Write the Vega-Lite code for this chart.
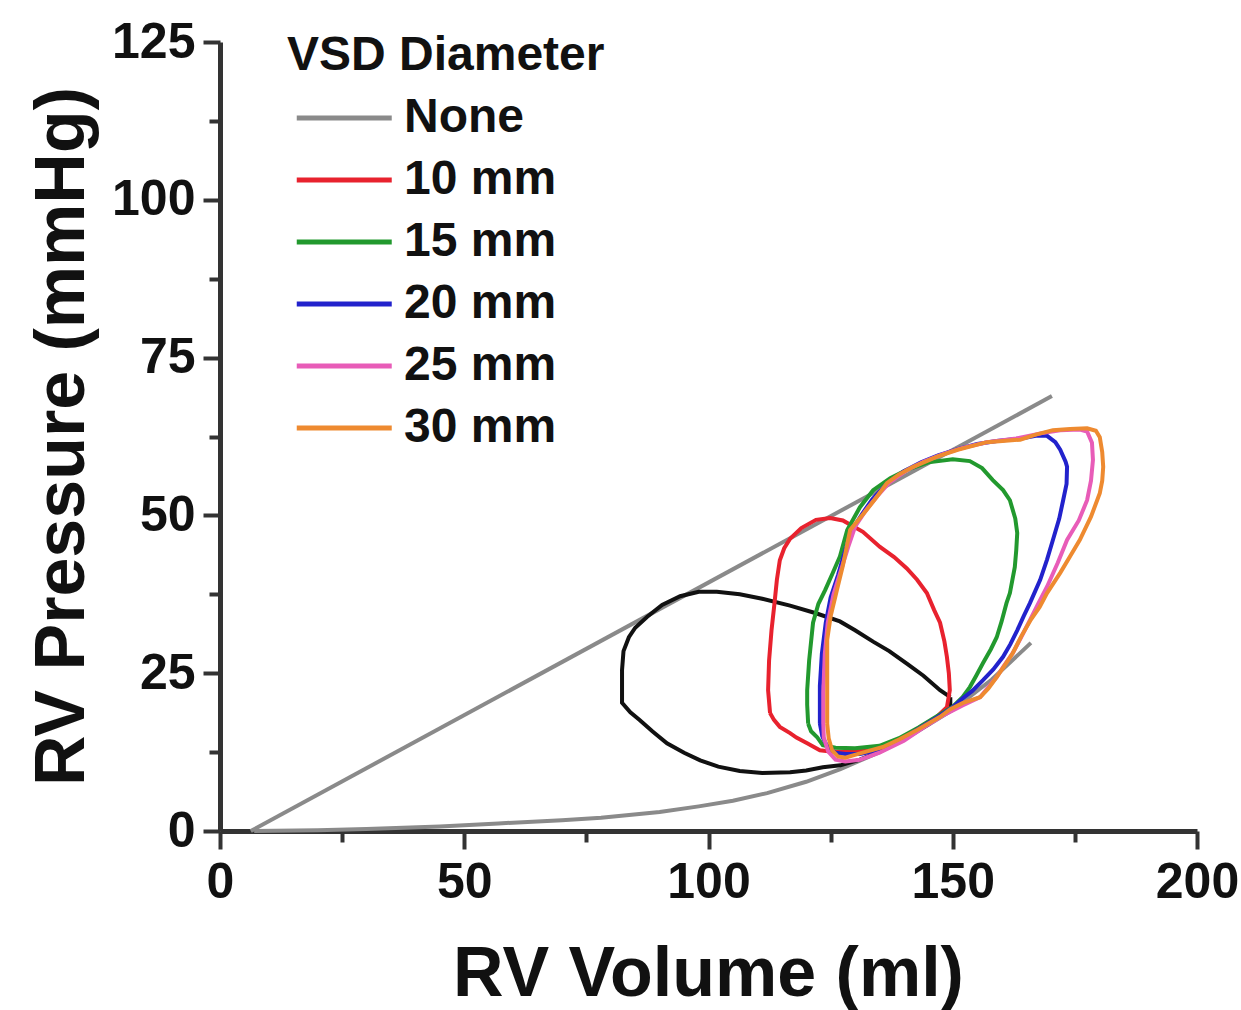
{
  "$schema": "https://vega.github.io/schema/vega-lite/v6.json",
  "width": 977,
  "height": 789,
  "autosize": {"type": "none"},
  "padding": {"left": 220, "top": 42, "right": 44, "bottom": 179},
  "background": "white",
  "config": {
    "view": {"stroke": null},
    "font": "Liberation Sans"
  },
  "datasets": {
    "gray": [
      {"k": "ESPVR", "i": 0, "v": 6.3, "p": 0},
      {"k": "ESPVR", "i": 1, "v": 170.3, "p": 68.9},
      {"k": "EDPVR", "i": 0, "v": 7, "p": 0},
      {"k": "EDPVR", "i": 1, "v": 20, "p": 0.1},
      {"k": "EDPVR", "i": 2, "v": 30, "p": 0.3},
      {"k": "EDPVR", "i": 3, "v": 45, "p": 0.7},
      {"k": "EDPVR", "i": 4, "v": 57, "p": 1.2},
      {"k": "EDPVR", "i": 5, "v": 70, "p": 1.7},
      {"k": "EDPVR", "i": 6, "v": 78, "p": 2.1},
      {"k": "EDPVR", "i": 7, "v": 90, "p": 3.0},
      {"k": "EDPVR", "i": 8, "v": 98, "p": 3.9},
      {"k": "EDPVR", "i": 9, "v": 105, "p": 4.8},
      {"k": "EDPVR", "i": 10, "v": 112, "p": 6.0},
      {"k": "EDPVR", "i": 11, "v": 120, "p": 7.8},
      {"k": "EDPVR", "i": 12, "v": 127, "p": 9.8},
      {"k": "EDPVR", "i": 13, "v": 135, "p": 12.5},
      {"k": "EDPVR", "i": 14, "v": 142, "p": 15.4},
      {"k": "EDPVR", "i": 15, "v": 150, "p": 19.2},
      {"k": "EDPVR", "i": 16, "v": 158, "p": 24.0},
      {"k": "EDPVR", "i": 17, "v": 166, "p": 29.8}
    ],
    "none": [
      {"i": 0, "v": 149.5, "p": 21.2},
      {"i": 1, "v": 147.4, "p": 22.3},
      {"i": 2, "v": 144, "p": 24.6},
      {"i": 3, "v": 140.6, "p": 26.5},
      {"i": 4, "v": 137, "p": 28.5},
      {"i": 5, "v": 133.7, "p": 30.0},
      {"i": 6, "v": 130, "p": 31.8},
      {"i": 7, "v": 126.9, "p": 33.2},
      {"i": 8, "v": 122, "p": 34.5},
      {"i": 9, "v": 116.7, "p": 35.7},
      {"i": 10, "v": 111, "p": 36.8},
      {"i": 11, "v": 106.4, "p": 37.5},
      {"i": 12, "v": 101.7, "p": 37.9},
      {"i": 13, "v": 98, "p": 37.9},
      {"i": 14, "v": 94.2, "p": 37.2},
      {"i": 15, "v": 90.5, "p": 35.8},
      {"i": 16, "v": 87.4, "p": 33.9},
      {"i": 17, "v": 85, "p": 32.2},
      {"i": 18, "v": 83.7, "p": 30.7},
      {"i": 19, "v": 82.6, "p": 28.5},
      {"i": 20, "v": 82.3, "p": 25.5},
      {"i": 21, "v": 82.3, "p": 20.3},
      {"i": 22, "v": 84, "p": 18.8},
      {"i": 23, "v": 85.9, "p": 17.6},
      {"i": 24, "v": 88.5, "p": 15.8},
      {"i": 25, "v": 91.5, "p": 13.9},
      {"i": 26, "v": 95, "p": 12.4},
      {"i": 27, "v": 98.3, "p": 11.2},
      {"i": 28, "v": 102, "p": 10.2},
      {"i": 29, "v": 106.4, "p": 9.5},
      {"i": 30, "v": 111, "p": 9.2},
      {"i": 31, "v": 116.7, "p": 9.3},
      {"i": 32, "v": 120, "p": 9.6},
      {"i": 33, "v": 123.4, "p": 10.1},
      {"i": 34, "v": 127, "p": 10.4},
      {"i": 35, "v": 131, "p": 11.3},
      {"i": 36, "v": 135, "p": 12.6},
      {"i": 37, "v": 140, "p": 14.6},
      {"i": 38, "v": 145, "p": 16.9},
      {"i": 39, "v": 149.5, "p": 19.5},
      {"i": 40, "v": 149.5, "p": 21.2}
    ],
    "vsd": [
      {"s": "10 mm", "i": 0, "v": 112.6, "p": 18.7},
      {"s": "10 mm", "i": 1, "v": 112.2, "p": 22.3},
      {"s": "10 mm", "i": 2, "v": 112.4, "p": 27},
      {"s": "10 mm", "i": 3, "v": 112.9, "p": 31.8},
      {"s": "10 mm", "i": 4, "v": 113.5, "p": 36},
      {"s": "10 mm", "i": 5, "v": 114, "p": 39.8},
      {"s": "10 mm", "i": 6, "v": 114.6, "p": 42.9},
      {"s": "10 mm", "i": 7, "v": 115.5, "p": 44.8},
      {"s": "10 mm", "i": 8, "v": 116.7, "p": 46.3},
      {"s": "10 mm", "i": 9, "v": 119, "p": 48},
      {"s": "10 mm", "i": 10, "v": 122, "p": 49.3},
      {"s": "10 mm", "i": 11, "v": 124.9, "p": 49.6},
      {"s": "10 mm", "i": 12, "v": 127.5, "p": 49.2},
      {"s": "10 mm", "i": 13, "v": 131.6, "p": 47.4},
      {"s": "10 mm", "i": 14, "v": 135.1, "p": 45},
      {"s": "10 mm", "i": 15, "v": 138, "p": 43.4},
      {"s": "10 mm", "i": 16, "v": 140.6, "p": 41.6},
      {"s": "10 mm", "i": 17, "v": 142.7, "p": 39.8},
      {"s": "10 mm", "i": 18, "v": 144.7, "p": 37.7},
      {"s": "10 mm", "i": 19, "v": 146.2, "p": 35},
      {"s": "10 mm", "i": 20, "v": 147.4, "p": 33},
      {"s": "10 mm", "i": 21, "v": 148.3, "p": 30},
      {"s": "10 mm", "i": 22, "v": 148.8, "p": 27.6},
      {"s": "10 mm", "i": 23, "v": 149.2, "p": 25},
      {"s": "10 mm", "i": 24, "v": 149.4, "p": 22.3},
      {"s": "10 mm", "i": 25, "v": 148.8, "p": 19.6},
      {"s": "10 mm", "i": 26, "v": 146.6, "p": 18},
      {"s": "10 mm", "i": 27, "v": 144.7, "p": 17.1},
      {"s": "10 mm", "i": 28, "v": 141, "p": 15.3},
      {"s": "10 mm", "i": 29, "v": 137.2, "p": 13.9},
      {"s": "10 mm", "i": 30, "v": 133, "p": 12.8},
      {"s": "10 mm", "i": 31, "v": 128.5, "p": 12.5},
      {"s": "10 mm", "i": 32, "v": 125, "p": 12.6},
      {"s": "10 mm", "i": 33, "v": 122.8, "p": 12.8},
      {"s": "10 mm", "i": 34, "v": 120.2, "p": 13.9},
      {"s": "10 mm", "i": 35, "v": 118, "p": 14.8},
      {"s": "10 mm", "i": 36, "v": 116.7, "p": 15.5},
      {"s": "10 mm", "i": 37, "v": 114.6, "p": 16.5},
      {"s": "10 mm", "i": 38, "v": 113.4, "p": 17.6},
      {"s": "10 mm", "i": 39, "v": 112.6, "p": 18.7},

      {"s": "15 mm", "i": 0, "v": 120.4, "p": 17},
      {"s": "15 mm", "i": 1, "v": 120.2, "p": 20},
      {"s": "15 mm", "i": 2, "v": 120.2, "p": 22.3},
      {"s": "15 mm", "i": 3, "v": 120.6, "p": 27},
      {"s": "15 mm", "i": 4, "v": 121.4, "p": 33},
      {"s": "15 mm", "i": 5, "v": 122.5, "p": 36},
      {"s": "15 mm", "i": 6, "v": 123.9, "p": 38.2},
      {"s": "15 mm", "i": 7, "v": 125.5, "p": 41},
      {"s": "15 mm", "i": 8, "v": 126.9, "p": 43.5},
      {"s": "15 mm", "i": 9, "v": 128.4, "p": 47.7},
      {"s": "15 mm", "i": 10, "v": 131, "p": 51.3},
      {"s": "15 mm", "i": 11, "v": 133.7, "p": 54},
      {"s": "15 mm", "i": 12, "v": 137.2, "p": 55.9},
      {"s": "15 mm", "i": 13, "v": 140.6, "p": 57.2},
      {"s": "15 mm", "i": 14, "v": 145, "p": 58.4},
      {"s": "15 mm", "i": 15, "v": 150, "p": 58.9},
      {"s": "15 mm", "i": 16, "v": 153.5, "p": 58.6},
      {"s": "15 mm", "i": 17, "v": 156, "p": 57.5},
      {"s": "15 mm", "i": 18, "v": 158.2, "p": 55.6},
      {"s": "15 mm", "i": 19, "v": 160.3, "p": 54},
      {"s": "15 mm", "i": 20, "v": 161.7, "p": 52.4},
      {"s": "15 mm", "i": 21, "v": 162.8, "p": 49.5},
      {"s": "15 mm", "i": 22, "v": 163.2, "p": 47.2},
      {"s": "15 mm", "i": 23, "v": 163, "p": 44.5},
      {"s": "15 mm", "i": 24, "v": 162.7, "p": 41.8},
      {"s": "15 mm", "i": 25, "v": 161.7, "p": 37.7},
      {"s": "15 mm", "i": 26, "v": 161, "p": 36.1},
      {"s": "15 mm", "i": 27, "v": 160, "p": 33.2},
      {"s": "15 mm", "i": 28, "v": 159, "p": 30.7},
      {"s": "15 mm", "i": 29, "v": 157.8, "p": 28.8},
      {"s": "15 mm", "i": 30, "v": 156.2, "p": 26.6},
      {"s": "15 mm", "i": 31, "v": 154.8, "p": 24.6},
      {"s": "15 mm", "i": 32, "v": 153.5, "p": 22.8},
      {"s": "15 mm", "i": 33, "v": 152, "p": 21.2},
      {"s": "15 mm", "i": 34, "v": 150, "p": 19.7},
      {"s": "15 mm", "i": 35, "v": 147, "p": 18.3},
      {"s": "15 mm", "i": 36, "v": 143, "p": 16.4},
      {"s": "15 mm", "i": 37, "v": 139, "p": 14.7},
      {"s": "15 mm", "i": 38, "v": 135, "p": 13.5},
      {"s": "15 mm", "i": 39, "v": 130, "p": 13.1},
      {"s": "15 mm", "i": 40, "v": 126, "p": 13.2},
      {"s": "15 mm", "i": 41, "v": 123.4, "p": 13.6},
      {"s": "15 mm", "i": 42, "v": 122.2, "p": 14.9},
      {"s": "15 mm", "i": 43, "v": 121, "p": 15.8},
      {"s": "15 mm", "i": 44, "v": 120.4, "p": 17},

      {"s": "20 mm", "i": 0, "v": 122.8, "p": 17},
      {"s": "20 mm", "i": 1, "v": 122.8, "p": 20},
      {"s": "20 mm", "i": 2, "v": 122.8, "p": 23},
      {"s": "20 mm", "i": 3, "v": 123.2, "p": 28},
      {"s": "20 mm", "i": 4, "v": 124, "p": 33},
      {"s": "20 mm", "i": 5, "v": 125, "p": 37},
      {"s": "20 mm", "i": 6, "v": 126.5, "p": 40.5},
      {"s": "20 mm", "i": 7, "v": 128, "p": 44.5},
      {"s": "20 mm", "i": 8, "v": 129.4, "p": 47.7},
      {"s": "20 mm", "i": 9, "v": 131.5, "p": 50.3},
      {"s": "20 mm", "i": 10, "v": 133.5, "p": 52.5},
      {"s": "20 mm", "i": 11, "v": 136.5, "p": 55},
      {"s": "20 mm", "i": 12, "v": 140, "p": 57},
      {"s": "20 mm", "i": 13, "v": 143.5, "p": 58.4},
      {"s": "20 mm", "i": 14, "v": 147, "p": 59.5},
      {"s": "20 mm", "i": 15, "v": 151, "p": 60.5},
      {"s": "20 mm", "i": 16, "v": 155, "p": 61.3},
      {"s": "20 mm", "i": 17, "v": 159, "p": 61.8},
      {"s": "20 mm", "i": 18, "v": 164, "p": 62.2},
      {"s": "20 mm", "i": 19, "v": 167, "p": 62.6},
      {"s": "20 mm", "i": 20, "v": 169.3, "p": 62.6},
      {"s": "20 mm", "i": 21, "v": 171, "p": 61.6},
      {"s": "20 mm", "i": 22, "v": 172, "p": 60.4},
      {"s": "20 mm", "i": 23, "v": 173.1, "p": 58.5},
      {"s": "20 mm", "i": 24, "v": 173.4, "p": 57.7},
      {"s": "20 mm", "i": 25, "v": 173.3, "p": 55},
      {"s": "20 mm", "i": 26, "v": 172.6, "p": 52.4},
      {"s": "20 mm", "i": 27, "v": 171.8, "p": 49.5},
      {"s": "20 mm", "i": 28, "v": 170.5, "p": 46.1},
      {"s": "20 mm", "i": 29, "v": 169.3, "p": 43},
      {"s": "20 mm", "i": 30, "v": 167.9, "p": 39.8},
      {"s": "20 mm", "i": 31, "v": 165.8, "p": 36.1},
      {"s": "20 mm", "i": 32, "v": 164.5, "p": 34},
      {"s": "20 mm", "i": 33, "v": 163.2, "p": 31.8},
      {"s": "20 mm", "i": 34, "v": 161.8, "p": 29.6},
      {"s": "20 mm", "i": 35, "v": 160.3, "p": 27.6},
      {"s": "20 mm", "i": 36, "v": 158.3, "p": 25.6},
      {"s": "20 mm", "i": 37, "v": 156.2, "p": 23.9},
      {"s": "20 mm", "i": 38, "v": 154, "p": 22.2},
      {"s": "20 mm", "i": 39, "v": 152, "p": 21},
      {"s": "20 mm", "i": 40, "v": 150, "p": 19.6},
      {"s": "20 mm", "i": 41, "v": 147, "p": 18.1},
      {"s": "20 mm", "i": 42, "v": 143, "p": 16.2},
      {"s": "20 mm", "i": 43, "v": 139, "p": 14.3},
      {"s": "20 mm", "i": 44, "v": 135, "p": 12.8},
      {"s": "20 mm", "i": 45, "v": 131, "p": 12.2},
      {"s": "20 mm", "i": 46, "v": 128, "p": 12.2},
      {"s": "20 mm", "i": 47, "v": 126, "p": 12.4},
      {"s": "20 mm", "i": 48, "v": 124.3, "p": 13.4},
      {"s": "20 mm", "i": 49, "v": 123.3, "p": 15},
      {"s": "20 mm", "i": 50, "v": 122.8, "p": 17},

      {"s": "25 mm", "i": 0, "v": 123.5, "p": 17},
      {"s": "25 mm", "i": 1, "v": 123.5, "p": 22},
      {"s": "25 mm", "i": 2, "v": 123.8, "p": 28},
      {"s": "25 mm", "i": 3, "v": 124.4, "p": 33},
      {"s": "25 mm", "i": 4, "v": 125.6, "p": 37.5},
      {"s": "25 mm", "i": 5, "v": 127, "p": 41},
      {"s": "25 mm", "i": 6, "v": 128.6, "p": 45},
      {"s": "25 mm", "i": 7, "v": 130, "p": 48.2},
      {"s": "25 mm", "i": 8, "v": 132.2, "p": 50.8},
      {"s": "25 mm", "i": 9, "v": 134.5, "p": 53},
      {"s": "25 mm", "i": 10, "v": 137, "p": 55.2},
      {"s": "25 mm", "i": 11, "v": 140.5, "p": 57.1},
      {"s": "25 mm", "i": 12, "v": 144, "p": 58.5},
      {"s": "25 mm", "i": 13, "v": 148, "p": 59.7},
      {"s": "25 mm", "i": 14, "v": 152, "p": 60.7},
      {"s": "25 mm", "i": 15, "v": 157, "p": 61.6},
      {"s": "25 mm", "i": 16, "v": 163, "p": 62.2},
      {"s": "25 mm", "i": 17, "v": 168, "p": 63},
      {"s": "25 mm", "i": 18, "v": 172, "p": 63.5},
      {"s": "25 mm", "i": 19, "v": 176, "p": 63.6},
      {"s": "25 mm", "i": 20, "v": 177.5, "p": 63.3},
      {"s": "25 mm", "i": 21, "v": 178.5, "p": 61.5},
      {"s": "25 mm", "i": 22, "v": 178.7, "p": 58.8},
      {"s": "25 mm", "i": 23, "v": 178.3, "p": 55.5},
      {"s": "25 mm", "i": 24, "v": 177.5, "p": 52.4},
      {"s": "25 mm", "i": 25, "v": 175.8, "p": 49.2},
      {"s": "25 mm", "i": 26, "v": 173.4, "p": 46.1},
      {"s": "25 mm", "i": 27, "v": 171.5, "p": 42.5},
      {"s": "25 mm", "i": 28, "v": 169.3, "p": 38.7},
      {"s": "25 mm", "i": 29, "v": 167.5, "p": 36},
      {"s": "25 mm", "i": 30, "v": 165.8, "p": 33.4},
      {"s": "25 mm", "i": 31, "v": 164, "p": 30.7},
      {"s": "25 mm", "i": 32, "v": 162.3, "p": 28.2},
      {"s": "25 mm", "i": 33, "v": 160.5, "p": 26.2},
      {"s": "25 mm", "i": 34, "v": 159, "p": 24.4},
      {"s": "25 mm", "i": 35, "v": 157.3, "p": 22.8},
      {"s": "25 mm", "i": 36, "v": 155.6, "p": 21.2},
      {"s": "25 mm", "i": 37, "v": 152, "p": 19.9},
      {"s": "25 mm", "i": 38, "v": 148, "p": 18.3},
      {"s": "25 mm", "i": 39, "v": 144, "p": 16.4},
      {"s": "25 mm", "i": 40, "v": 140, "p": 14.3},
      {"s": "25 mm", "i": 41, "v": 135, "p": 12.4},
      {"s": "25 mm", "i": 42, "v": 131, "p": 11.3},
      {"s": "25 mm", "i": 43, "v": 128, "p": 11},
      {"s": "25 mm", "i": 44, "v": 126, "p": 11.3},
      {"s": "25 mm", "i": 45, "v": 124.5, "p": 12.6},
      {"s": "25 mm", "i": 46, "v": 123.6, "p": 14.8},
      {"s": "25 mm", "i": 47, "v": 123.5, "p": 17},

      {"s": "30 mm", "i": 0, "v": 124.3, "p": 17},
      {"s": "30 mm", "i": 1, "v": 124.3, "p": 22.3},
      {"s": "30 mm", "i": 2, "v": 124.3, "p": 26},
      {"s": "30 mm", "i": 3, "v": 124.3, "p": 30.3},
      {"s": "30 mm", "i": 4, "v": 125, "p": 34},
      {"s": "30 mm", "i": 5, "v": 126.3, "p": 38.2},
      {"s": "30 mm", "i": 6, "v": 127.5, "p": 42},
      {"s": "30 mm", "i": 7, "v": 129, "p": 47.7},
      {"s": "30 mm", "i": 8, "v": 132.4, "p": 50.9},
      {"s": "30 mm", "i": 9, "v": 134.5, "p": 53},
      {"s": "30 mm", "i": 10, "v": 136.5, "p": 55.1},
      {"s": "30 mm", "i": 11, "v": 139, "p": 56.5},
      {"s": "30 mm", "i": 12, "v": 141.9, "p": 57.7},
      {"s": "30 mm", "i": 13, "v": 146.8, "p": 59.3},
      {"s": "30 mm", "i": 14, "v": 151, "p": 60.4},
      {"s": "30 mm", "i": 15, "v": 157, "p": 61.6},
      {"s": "30 mm", "i": 16, "v": 163.8, "p": 62},
      {"s": "30 mm", "i": 17, "v": 167, "p": 62.8},
      {"s": "30 mm", "i": 18, "v": 170.5, "p": 63.5},
      {"s": "30 mm", "i": 19, "v": 174, "p": 63.7},
      {"s": "30 mm", "i": 20, "v": 177.5, "p": 63.8},
      {"s": "30 mm", "i": 21, "v": 179.3, "p": 63.4},
      {"s": "30 mm", "i": 22, "v": 180.1, "p": 62.4},
      {"s": "30 mm", "i": 23, "v": 180.6, "p": 60},
      {"s": "30 mm", "i": 24, "v": 180.8, "p": 57.7},
      {"s": "30 mm", "i": 25, "v": 180.6, "p": 55.5},
      {"s": "30 mm", "i": 26, "v": 180.1, "p": 53.5},
      {"s": "30 mm", "i": 27, "v": 178.3, "p": 49.8},
      {"s": "30 mm", "i": 28, "v": 176, "p": 46.1},
      {"s": "30 mm", "i": 29, "v": 174, "p": 43.5},
      {"s": "30 mm", "i": 30, "v": 172, "p": 40.9},
      {"s": "30 mm", "i": 31, "v": 169.3, "p": 37.7},
      {"s": "30 mm", "i": 32, "v": 167.8, "p": 35.5},
      {"s": "30 mm", "i": 33, "v": 166, "p": 33.5},
      {"s": "30 mm", "i": 34, "v": 164, "p": 30.8},
      {"s": "30 mm", "i": 35, "v": 162.3, "p": 28.2},
      {"s": "30 mm", "i": 36, "v": 160.6, "p": 26.2},
      {"s": "30 mm", "i": 37, "v": 159, "p": 24.4},
      {"s": "30 mm", "i": 38, "v": 157.3, "p": 22.6},
      {"s": "30 mm", "i": 39, "v": 155.6, "p": 21.2},
      {"s": "30 mm", "i": 40, "v": 152.1, "p": 20.3},
      {"s": "30 mm", "i": 41, "v": 149.5, "p": 19.3},
      {"s": "30 mm", "i": 42, "v": 147.4, "p": 18.1},
      {"s": "30 mm", "i": 43, "v": 142.7, "p": 16},
      {"s": "30 mm", "i": 44, "v": 139, "p": 14.5},
      {"s": "30 mm", "i": 45, "v": 135.7, "p": 13.3},
      {"s": "30 mm", "i": 46, "v": 131, "p": 12.3},
      {"s": "30 mm", "i": 47, "v": 128, "p": 11.6},
      {"s": "30 mm", "i": 48, "v": 126.5, "p": 11.8},
      {"s": "30 mm", "i": 49, "v": 125.3, "p": 12.8},
      {"s": "30 mm", "i": 50, "v": 124.6, "p": 14.7},
      {"s": "30 mm", "i": 51, "v": 124.3, "p": 17}
    ]
  },
  "layer": [
    {
      "data": {"name": "gray"},
      "mark": {"type": "line", "color": "#8a8a8a", "strokeWidth": 4},
      "encoding": {
        "x": {
          "field": "v", "type": "quantitative",
          "scale": {"domain": [0, 200], "nice": false, "zero": false},
          "axis": {
            "orient": "bottom",
            "values": [0, 50, 100, 150, 200],
            "grid": false,
            "domainColor": "#333333", "domainWidth": 5,
            "tickColor": "#333333", "tickWidth": 4, "tickSize": 18,
            "labelFont": "Liberation Sans", "labelFontSize": 50, "labelFontWeight": "bold", "labelColor": "#111111",
            "labelPadding": 8, "labelFlush": false, "labelOverlap": false,
            "title": "RV Volume (ml)",
            "titleFont": "Liberation Sans", "titleFontSize": 70, "titleFontWeight": "bold", "titleColor": "#111111",
            "titleBaseline": "alphabetic", "titleY": 164, "titleX": 488
          }
        },
        "y": {
          "field": "p", "type": "quantitative",
          "scale": {"domain": [0, 125], "nice": false, "zero": false},
          "axis": {
            "orient": "left",
            "values": [0, 25, 50, 75, 100, 125],
            "grid": false,
            "domainColor": "#333333", "domainWidth": 5,
            "tickColor": "#333333", "tickWidth": 4, "tickSize": 17,
            "labelFont": "Liberation Sans", "labelFontSize": 50, "labelFontWeight": "bold", "labelColor": "#111111",
            "labelPadding": 8, "labelFlush": false, "labelOverlap": false,
            "title": "RV Pressure (mmHg)",
            "titleFont": "Liberation Sans", "titleFontSize": 70, "titleFontWeight": "bold", "titleColor": "#111111",
            "titleAngle": -90, "titleBaseline": "alphabetic", "titleAlign": "center",
            "titleX": -137, "titleY": 394
          }
        },
        "detail": {"field": "k"},
        "order": {"field": "i"}
      }
    },
    {
      "data": {"name": "none"},
      "mark": {"type": "line", "color": "#111111", "strokeWidth": 4},
      "encoding": {
        "x": {
          "field": "v", "type": "quantitative",
          "scale": {"domain": [0, 200], "nice": false, "zero": false},
          "axis": {
            "orient": "bottom", "values": [25, 75, 125, 175],
            "domain": false, "labels": false, "title": null, "grid": false,
            "tickColor": "#333333", "tickWidth": 4, "tickSize": 11
          }
        },
        "y": {
          "field": "p", "type": "quantitative",
          "scale": {"domain": [0, 125], "nice": false, "zero": false},
          "axis": {
            "orient": "left", "values": [12.5, 37.5, 62.5, 87.5, 112.5],
            "domain": false, "labels": false, "title": null, "grid": false,
            "tickColor": "#333333", "tickWidth": 4, "tickSize": 11
          }
        },
        "order": {"field": "i"}
      }
    },
    {
      "data": {"name": "vsd"},
      "mark": {"type": "line", "strokeWidth": 4},
      "encoding": {
        "x": {"field": "v", "type": "quantitative", "scale": {"domain": [0, 200], "nice": false, "zero": false}, "axis": null},
        "y": {"field": "p", "type": "quantitative", "scale": {"domain": [0, 125], "nice": false, "zero": false}, "axis": null},
        "color": {
          "field": "s", "type": "nominal",
          "scale": {
            "domain": ["None", "10 mm", "15 mm", "20 mm", "25 mm", "30 mm"],
            "range": ["#8a8a8a", "#e8222e", "#22992e", "#2222cc", "#e85cb8", "#ee8a30"]
          },
          "legend": {
            "title": "VSD Diameter",
            "orient": "none", "legendX": 67, "legendY": -10,
            "titleFont": "Liberation Sans", "titleFontSize": 48, "titleFontWeight": "bold", "titleColor": "#111111",
            "titlePadding": 14, "titleLimit": 600,
            "labelFont": "Liberation Sans", "labelFontSize": 48, "labelFontWeight": "bold", "labelColor": "#111111",
            "labelLimit": 400,
            "symbolType": "M-1.2,0H6.8", "symbolSize": 564, "symbolStrokeWidth": 5,
            "labelOffset": 69, "rowPadding": 14
          }
        },
        "order": {"field": "i"}
      }
    }
  ],
  "resolve": {"axis": {"x": "independent", "y": "independent"}}
}
